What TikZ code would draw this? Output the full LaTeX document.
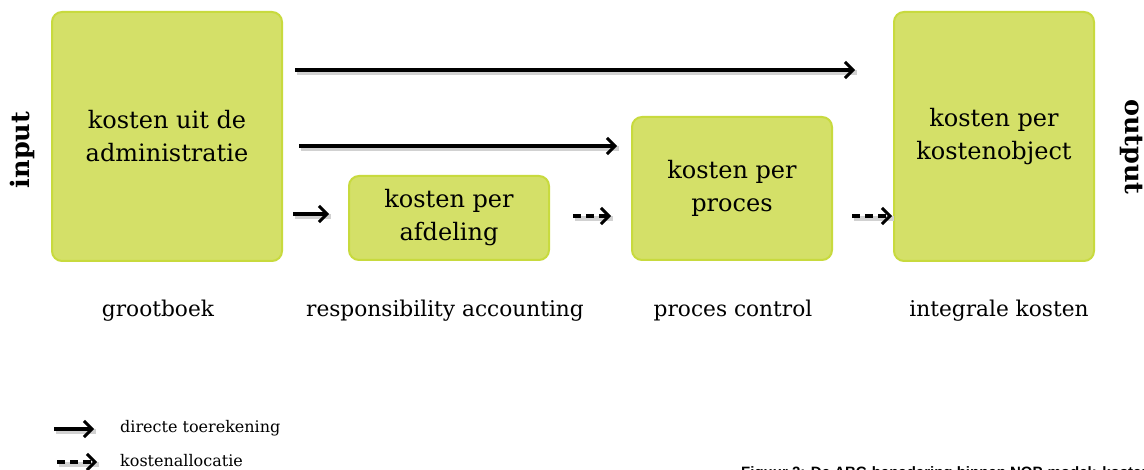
\documentclass[tikz,border=0pt]{standalone}
\usepackage{fontspec}
\setmainfont{DejaVu Serif}
\newfontfamily\capfont{Liberation Sans}
\usetikzlibrary{arrows.meta,calc}
\definecolor{boxfill}{RGB}{212,224,104}
\definecolor{boxline}{RGB}{200,218,62}
\tikzset{
  stage/.style={draw=boxline, line width=2pt, fill=boxfill, rounded corners=10pt,
    align=center, font=\fontsize{24}{33}\selectfont, inner sep=0pt},
  arr/.style={line width=3.4pt, -{Straight Barb[length=8pt,width=16pt,line width=3pt]},
    preaction={draw=black!18, line width=5pt, -, transform canvas={shift={(1.5pt,-2.5pt)}}}},
  darr/.style={arr, dash pattern=on 8pt off 5pt},
  lbl/.style={font=\fontsize{21.7}{25}\selectfont, inner sep=0pt},
  side/.style={font=\bfseries\fontsize{25.5}{28}\selectfont, inner sep=0pt},
  legtxt/.style={font=\fontsize{16}{19}\selectfont, anchor=west, inner sep=0pt},
}
\begin{document}
\begin{tikzpicture}[x=1pt,y=-1pt]
\useasboundingbox (0,0) rectangle (1144,470);
\fill[white] (0,0) rectangle (1144,470);

\node[stage, minimum width=230pt, minimum height=249pt] (A) at (167,136.5) {kosten uit de\\administratie};
\node[stage, minimum width=200pt, minimum height=84pt] (B) at (449,218) {kosten per\\afdeling};
\node[stage, minimum width=200pt, minimum height=143pt] (C) at (732,188.5) {kosten per\\proces};
\node[stage, minimum width=200pt, minimum height=249pt] (D) at (994,136.5) {kosten per\\kostenobject};

\coordinate (r1) at (0,70);
\coordinate (r2) at (0,146);
\coordinate (r3) at (0,214);
\coordinate (r4) at (0,216);

\draw[arr, shorten <=12pt, shorten >=38pt] (A.east |- r1) -- (D.west |- r1);
\draw[arr, shorten <=16pt, shorten >=14pt] (A.east |- r2) -- (C.west |- r2);
\draw[arr, shorten <=10pt, shorten >=19pt] (A.east |- r3) -- (B.west |- r3);
\draw[darr, shorten <=23pt, shorten >=20pt] (B.east |- r4) -- (C.west |- r4);
\draw[darr, shorten <=19pt, shorten >=1pt] (C.east |- r4) -- (D.west |- r4);

\node[lbl] (l1) at (158,311) {grootboek};
\node[lbl] (l2) at (445,311) {responsibility accounting};
\node[lbl] (l3) at (733,311) {proces control};
\node[lbl] (l4) at (999,311) {integrale kosten};

\node[side, rotate=90] (in) at (22,150) {input};
\node[side, rotate=-90] (out) at (1132,147) {output};

\coordinate (s1) at (54,429);
\coordinate (e1) at (94,429);
\coordinate (s2) at (57,462);
\coordinate (e2) at (97,462);
\draw[arr] (s1) -- (e1);
\draw[darr] (s2) -- (e2);
\node[legtxt] (t1) at (120,428) {directe toerekening};
\node[legtxt] (t2) at (120,460.5) {kostenallocatie};

\node[anchor=north west, inner sep=0pt, font=\capfont\bfseries\fontsize{15}{18}\selectfont] (cap) at (741,466.5)
  {Figuur 2: De ABC-benadering binnen NOP-model: kostenfilosofie};
\end{tikzpicture}
\end{document}
